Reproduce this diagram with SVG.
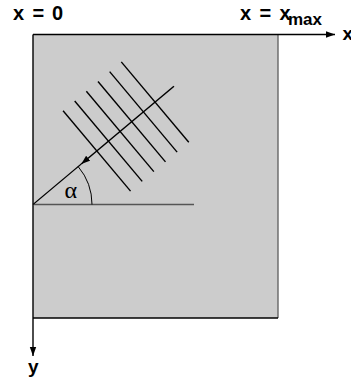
<svg xmlns="http://www.w3.org/2000/svg" width="351" height="383" viewBox="0 0 351 383">
<style>
.lbl{font-family:"Liberation Sans",Arial,sans-serif;font-weight:bold;fill:#000}
.wave{stroke:#000;stroke-width:1.4;fill:none}
</style>
<defs>
<marker id="ah" markerWidth="10" markerHeight="8" refX="9" refY="4" orient="auto" markerUnits="userSpaceOnUse">
<path d="M0,0.8 L9,4 L0,7.2 Z" fill="#000"/>
</marker>
</defs>
<rect width="351" height="383" fill="#fff"/>
<g id="domain">
<rect x="33" y="34.5" width="245" height="283.5" fill="#cccccc"/>
<line x1="278" y1="34.5" x2="278" y2="318" stroke="#666" stroke-width="1.4"/>
<line x1="33" y1="318" x2="278" y2="318" stroke="#000" stroke-width="1.4"/>
</g>
<g id="axes">
<line x1="33" y1="34.5" x2="335" y2="34.5" stroke="#000" stroke-width="1.4" marker-end="url(#ah)"/>
<line x1="33" y1="34.5" x2="33" y2="356" stroke="#000" stroke-width="1.4" marker-end="url(#ah)"/>
<text class="lbl" y="20.3" font-size="20"><tspan x="13">x</tspan><tspan x="32.5">=</tspan><tspan x="52">0</tspan></text>
<text class="lbl" y="20.3" font-size="20"><tspan x="240">x</tspan><tspan x="259.5">=</tspan><tspan x="279.5">x</tspan><tspan x="288" dy="5" font-size="17">max</tspan></text>
<text class="lbl" x="342.5" y="39.5" font-size="19">x</text>
<text class="lbl" x="28" y="372.7" font-size="19">y</text>
</g>
<g id="angle">
<line x1="33" y1="204.5" x2="194" y2="204.5" stroke="#555" stroke-width="1.4"/>
<path d="M92,204.5 A59,59 0 0 0 78.2,166.6" stroke="#000" stroke-width="1" fill="none"/>
<text x="64.5" y="198.3" font-family="'Liberation Serif',serif" font-size="24" fill="#000">α</text>
</g>
<g id="wave" transform="translate(33,204.5) rotate(-40)">
<line x1="0" y1="0" x2="63" y2="0" stroke="#000" stroke-width="1"/>
<line x1="184" y1="0" x2="63" y2="0" stroke="#000" stroke-width="1.5" marker-end="url(#ah)"/>
<line class="wave" x1="83.3" y1="-52.5" x2="83.3" y2="52.5"/>
<line class="wave" x1="98.5" y1="-52.5" x2="98.5" y2="52.5"/>
<line class="wave" x1="113.7" y1="-52.5" x2="113.7" y2="52.5"/>
<line class="wave" x1="128.9" y1="-52.5" x2="128.9" y2="52.5"/>
<line class="wave" x1="144.1" y1="-52.5" x2="144.1" y2="52.5"/>
<line class="wave" x1="159.3" y1="-52.5" x2="159.3" y2="52.5"/>
</g>
</svg>
